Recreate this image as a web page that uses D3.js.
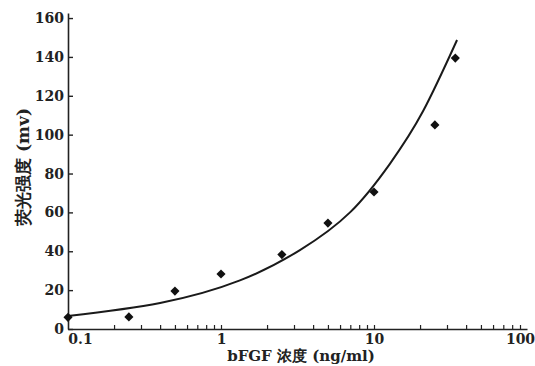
<!DOCTYPE html>
<html><head><meta charset="utf-8">
<script src="https://cdn.jsdelivr.net/npm/d3@7/dist/d3.min.js"></script>
<style>
html,body{margin:0;padding:0;background:#fff;}
svg{display:block;}
text{font-family:"DejaVu Serif","Liberation Serif",serif;font-weight:bold;fill:#222;}
</style></head>
<body>
<svg id="c" width="535" height="366"></svg>
<script>
// data
const concentrations = [0.1, 0.25, 0.5, 1, 2.5, 5, 10, 25, 34];
const intensities   = [6, 6.2, 19.5, 28.3, 38.3, 54.5, 70.5, 105, 139.4];
const curveX = [0.1, 0.4, 1.33, 3.28, 6.97, 12.7, 20.9, 34.9];
const curveY = [6.7, 13.4, 25, 40.6, 60, 85, 112, 148.7];
const yTicks = [0, 20, 40, 60, 80, 100, 120, 140, 160];
const xLabelTicks = [0.1, 1, 10, 100];
const xMinorTicks = [];
[0.1, 1, 10].forEach(d => { for (let k = 2; k <= 9; k++) xMinorTicks.push(+(d * k).toPrecision(3)); });
const xTitle = "bFGF 浓度 (ng/ml)";
const yTitle = "荧光强度 (mv)";

const svg = d3.select("#c");

const x = d3.scaleLog().domain([0.1, 100]).range([68, 527]);
const y = d3.scaleLinear().domain([0, 162.6]).range([329, 13]);

// y axis
const ya = svg.append("g").attr("transform", "translate(68,0)")
  .call(d3.axisLeft(y).tickValues(yTicks).tickSizeInner(-5).tickSizeOuter(0).tickPadding(4));
ya.selectAll("text").attr("font-size", 14).style("font-family", "'DejaVu Serif'").attr("fill", "#222");
ya.select(".domain").attr("stroke", "#222").attr("stroke-width", 1.6);
ya.selectAll(".tick line").attr("stroke", "#222").attr("stroke-width", 1.4);

// x axis: all minor ticks upward
const xa = svg.append("g").attr("transform", "translate(0,329)")
  .call(d3.axisBottom(x).tickValues(xLabelTicks.concat(xMinorTicks)).tickSizeInner(-4).tickSizeOuter(0).tickPadding(5)
    .tickFormat(d => xLabelTicks.includes(d) ? String(d) : ""));
xa.selectAll("text").attr("font-size", 14).style("font-family", "'DejaVu Serif'").attr("fill", "#222");
xa.selectAll(".tick").filter(d => d === 0.1).select("text").attr("dx", 12);
xa.selectAll(".tick").filter(d => d === 100).select("text").attr("dx", -7);
xa.selectAll(".tick").filter(d => d === 0.1 || d === 100).select("line").remove();
xa.select(".domain").attr("stroke", "#222").attr("stroke-width", 1.6);
xa.selectAll(".tick line").attr("stroke", "#222").attr("stroke-width", 1.2);

// fitted curve
const pts = curveX.map((v, i) => [x(v), y(curveY[i])]);
svg.append("path")
  .attr("d", d3.line().curve(d3.curveNatural)(pts))
  .attr("fill", "none").attr("stroke", "#1a1a1a").attr("stroke-width", 2);

// data points (diamonds)
svg.append("g").selectAll("path").data(concentrations).join("path")
  .attr("transform", (d, i) => `translate(${x(d)},${y(intensities[i])}) rotate(45)`)
  .attr("d", d3.symbol(d3.symbolSquare, 42))
  .attr("fill", "#111");

// titles
svg.append("text").attr("x", 301).attr("y", 361).attr("text-anchor", "middle")
  .attr("font-size", 15).text(xTitle);
svg.append("text").attr("transform", "translate(29,167) rotate(-90)").attr("text-anchor", "middle")
  .attr("font-size", 17).text(yTitle);
</script>
</body></html>
